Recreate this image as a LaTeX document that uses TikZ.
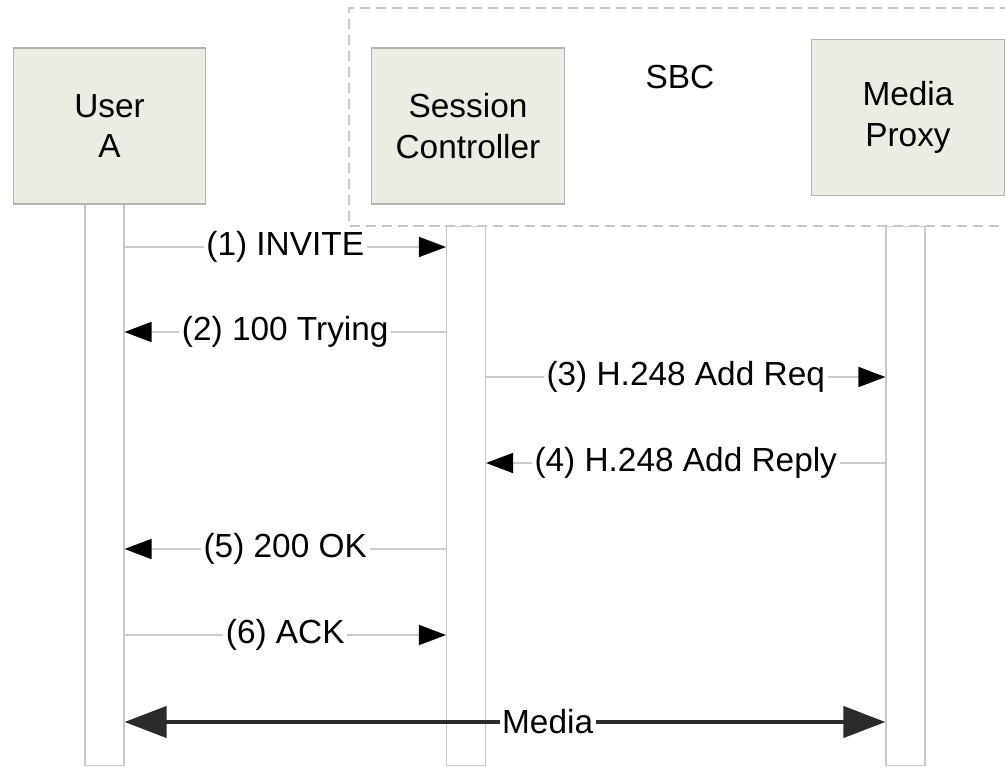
\documentclass[tikz,border=0pt]{standalone}
\usepackage{fontspec}
\setmainfont{Liberation Sans}
\usetikzlibrary{arrows.meta, positioning}

\definecolor{boxfill}{HTML}{EBEDE4}
\definecolor{boxline}{HTML}{B4B4B4}
\definecolor{lifeline}{HTML}{C8C8C8}
\definecolor{msgline}{HTML}{CCCCCC}
\definecolor{medialine}{HTML}{2B2B2B}

\begin{document}
\begin{tikzpicture}[
  font=\fontsize{19}{23}\selectfont,
  party/.style={draw=boxline, fill=boxfill, line width=0.8pt, minimum width=3.85cm, minimum height=3.12cm, align=center, inner sep=0pt},
  life/.style={draw=lifeline, fill=white, line width=0.6pt, minimum width=0.78cm, inner sep=0pt, anchor=north},
  msg/.style={draw=msgline, line width=0.9pt, -{Triangle[length=0.54cm, width=0.4cm, color=black]}},
  msglabel/.style={fill=white, inner sep=1.5pt},
  mediaarrow/.style={draw=medialine, line width=2.3pt, {Triangle[length=0.84cm, width=0.62cm]}-{Triangle[length=0.84cm, width=0.62cm]}}
]
\useasboundingbox (0,0) rectangle (20.1,15.32);

% Heights of the messages
\pgfmathsetmacro{\yInvite}{10.38}
\pgfmathsetmacro{\yTrying}{8.68}
\pgfmathsetmacro{\yAddReq}{7.78}
\pgfmathsetmacro{\yAddReply}{6.06}
\pgfmathsetmacro{\yOk}{4.34}
\pgfmathsetmacro{\yAck}{2.62}
\pgfmathsetmacro{\yMedia}{0.88}

% SBC boundary
\draw[lifeline, line width=0.6pt, dash pattern=on 5.7pt off 3.4pt] (20.2,15.16) -- (6.98,15.16) -- (6.98,10.8) -- (20.2,10.8);
\node (sbcLabel) at (13.6,13.78) {SBC};

% Draw lifelines
\node[life, minimum height=11.22cm] (lifeA) at (2.09,11.24) {};
\node[life, minimum height=10.78cm] (lifeS) at (9.32,10.8) {};
\node[life, minimum height=10.78cm] (lifeM) at (18.11,10.8) {};

% Draw parties
\node[party] (userA) at (2.19,12.8) {User\\A};
\node[party] (sessCtl) at (9.36,12.8) {Session\\Controller};
\node[party] (mediaPx) at (18.16,12.97) {Media\\Proxy};

% Draw messages
\draw[msg] (lifeA.east |- 0,\yInvite) -- (lifeS.west |- 0,\yInvite) node[msglabel, midway]{(1) INVITE};
\draw[msg] (lifeS.west |- 0,\yTrying) -- (lifeA.east |- 0,\yTrying) node[msglabel, midway]{(2) 100 Trying};
\draw[msg] (lifeS.east |- 0,\yAddReq) -- (lifeM.west |- 0,\yAddReq) node[msglabel, midway]{(3) H.248 Add Req};
\draw[msg] (lifeM.west |- 0,\yAddReply) -- (lifeS.east |- 0,\yAddReply) node[msglabel, midway]{(4) H.248 Add Reply};
\draw[msg] (lifeS.west |- 0,\yOk) -- (lifeA.east |- 0,\yOk) node[msglabel, midway]{(5) 200 OK};
\draw[msg] (lifeA.east |- 0,\yAck) -- (lifeS.west |- 0,\yAck) node[msglabel, midway]{(6) ACK};
\draw[mediaarrow] (lifeA.east |- 0,\yMedia) -- (lifeM.west |- 0,\yMedia) node[msglabel, pos=0.556]{Media};

\end{tikzpicture}
\end{document}
